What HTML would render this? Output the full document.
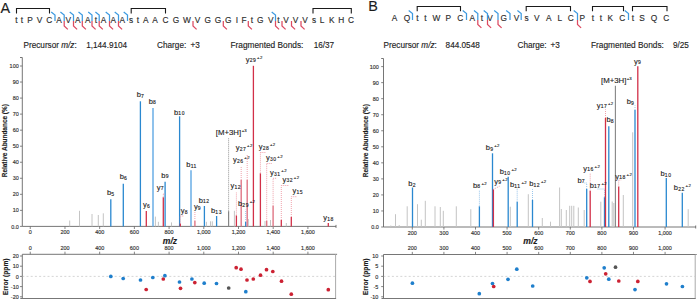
<!DOCTYPE html>
<html><head><meta charset="utf-8"><style>
html,body{margin:0;padding:0;background:#fff;}
svg{display:block;font-family:"Liberation Sans", sans-serif;}
text{stroke:#2a2a2a;stroke-width:0.14px;}
</style></head><body>
<svg width="697" height="300" viewBox="0 0 697 300">
<rect width="697" height="300" fill="#fff"/>
<text x="0.5" y="12.6" font-size="14.4" text-anchor="start" font-weight="normal" font-style="normal" fill="#1a1a1a" >A</text>
<text x="368.2" y="11.0" font-size="14.4" text-anchor="start" font-weight="normal" font-style="normal" fill="#1a1a1a" >B</text>
<text x="16.5" y="22.7" font-size="8.3" text-anchor="middle" font-weight="normal" font-style="normal" fill="#2b2b2b" >t</text>
<text x="22" y="22.7" font-size="8.3" text-anchor="middle" font-weight="normal" font-style="normal" fill="#2b2b2b" >t</text>
<text x="30" y="22.7" font-size="8.3" text-anchor="middle" font-weight="normal" font-style="normal" fill="#2b2b2b" >P</text>
<text x="39.6" y="22.7" font-size="8.3" text-anchor="middle" font-weight="normal" font-style="normal" fill="#2b2b2b" >V</text>
<text x="49.2" y="22.7" font-size="8.3" text-anchor="middle" font-weight="normal" font-style="normal" fill="#2b2b2b" >C</text>
<text x="59" y="22.7" font-size="8.3" text-anchor="middle" font-weight="normal" font-style="normal" fill="#2b2b2b" >A</text>
<text x="68.2" y="22.7" font-size="8.3" text-anchor="middle" font-weight="normal" font-style="normal" fill="#2b2b2b" >V</text>
<text x="77.7" y="22.7" font-size="8.3" text-anchor="middle" font-weight="normal" font-style="normal" fill="#2b2b2b" >A</text>
<text x="87.7" y="22.7" font-size="8.3" text-anchor="middle" font-weight="normal" font-style="normal" fill="#2b2b2b" >A</text>
<text x="96" y="22.7" font-size="8.3" text-anchor="middle" font-weight="normal" font-style="normal" fill="#2b2b2b" >t</text>
<text x="103.5" y="22.7" font-size="8.3" text-anchor="middle" font-weight="normal" font-style="normal" fill="#2b2b2b" >A</text>
<text x="113.2" y="22.7" font-size="8.3" text-anchor="middle" font-weight="normal" font-style="normal" fill="#2b2b2b" >A</text>
<text x="122.2" y="22.7" font-size="8.3" text-anchor="middle" font-weight="normal" font-style="normal" fill="#2b2b2b" >A</text>
<text x="131" y="22.7" font-size="8.3" text-anchor="middle" font-weight="normal" font-style="normal" fill="#2b2b2b" >s</text>
<text x="138" y="22.7" font-size="8.3" text-anchor="middle" font-weight="normal" font-style="normal" fill="#2b2b2b" >t</text>
<text x="145.7" y="22.7" font-size="8.3" text-anchor="middle" font-weight="normal" font-style="normal" fill="#2b2b2b" >A</text>
<text x="155" y="22.7" font-size="8.3" text-anchor="middle" font-weight="normal" font-style="normal" fill="#2b2b2b" >A</text>
<text x="165.5" y="22.7" font-size="8.3" text-anchor="middle" font-weight="normal" font-style="normal" fill="#2b2b2b" >C</text>
<text x="176" y="22.7" font-size="8.3" text-anchor="middle" font-weight="normal" font-style="normal" fill="#2b2b2b" >G</text>
<text x="187" y="22.7" font-size="8.3" text-anchor="middle" font-weight="normal" font-style="normal" fill="#2b2b2b" >W</text>
<text x="197.4" y="22.7" font-size="8.3" text-anchor="middle" font-weight="normal" font-style="normal" fill="#2b2b2b" >V</text>
<text x="207.8" y="22.7" font-size="8.3" text-anchor="middle" font-weight="normal" font-style="normal" fill="#2b2b2b" >G</text>
<text x="218" y="22.7" font-size="8.3" text-anchor="middle" font-weight="normal" font-style="normal" fill="#2b2b2b" >G</text>
<text x="228.2" y="22.7" font-size="8.3" text-anchor="middle" font-weight="normal" font-style="normal" fill="#2b2b2b" >G</text>
<text x="236.8" y="22.7" font-size="8.3" text-anchor="middle" font-weight="normal" font-style="normal" fill="#2b2b2b" >I</text>
<text x="244" y="22.7" font-size="8.3" text-anchor="middle" font-weight="normal" font-style="normal" fill="#2b2b2b" >F</text>
<text x="252" y="22.7" font-size="8.3" text-anchor="middle" font-weight="normal" font-style="normal" fill="#2b2b2b" >t</text>
<text x="260.2" y="22.7" font-size="8.3" text-anchor="middle" font-weight="normal" font-style="normal" fill="#2b2b2b" >G</text>
<text x="270.8" y="22.7" font-size="8.3" text-anchor="middle" font-weight="normal" font-style="normal" fill="#2b2b2b" >V</text>
<text x="278.5" y="22.7" font-size="8.3" text-anchor="middle" font-weight="normal" font-style="normal" fill="#2b2b2b" >t</text>
<text x="286" y="22.7" font-size="8.3" text-anchor="middle" font-weight="normal" font-style="normal" fill="#2b2b2b" >V</text>
<text x="295.5" y="22.7" font-size="8.3" text-anchor="middle" font-weight="normal" font-style="normal" fill="#2b2b2b" >V</text>
<text x="305" y="22.7" font-size="8.3" text-anchor="middle" font-weight="normal" font-style="normal" fill="#2b2b2b" >V</text>
<text x="314" y="22.7" font-size="8.3" text-anchor="middle" font-weight="normal" font-style="normal" fill="#2b2b2b" >s</text>
<text x="322" y="22.7" font-size="8.3" text-anchor="middle" font-weight="normal" font-style="normal" fill="#2b2b2b" >L</text>
<text x="331.7" y="22.7" font-size="8.3" text-anchor="middle" font-weight="normal" font-style="normal" fill="#2b2b2b" >K</text>
<text x="341.2" y="22.7" font-size="8.3" text-anchor="middle" font-weight="normal" font-style="normal" fill="#2b2b2b" >H</text>
<text x="351" y="22.7" font-size="8.3" text-anchor="middle" font-weight="normal" font-style="normal" fill="#2b2b2b" >C</text>
<text x="394.6" y="21.4" font-size="8.3" text-anchor="middle" font-weight="normal" font-style="normal" fill="#2b2b2b" >A</text>
<text x="407" y="21.4" font-size="8.3" text-anchor="middle" font-weight="normal" font-style="normal" fill="#2b2b2b" >Q</text>
<text x="417.3" y="21.4" font-size="8.3" text-anchor="middle" font-weight="normal" font-style="normal" fill="#2b2b2b" >t</text>
<text x="425.3" y="21.4" font-size="8.3" text-anchor="middle" font-weight="normal" font-style="normal" fill="#2b2b2b" >t</text>
<text x="436.3" y="21.4" font-size="8.3" text-anchor="middle" font-weight="normal" font-style="normal" fill="#2b2b2b" >W</text>
<text x="448.3" y="21.4" font-size="8.3" text-anchor="middle" font-weight="normal" font-style="normal" fill="#2b2b2b" >P</text>
<text x="460.2" y="21.4" font-size="8.3" text-anchor="middle" font-weight="normal" font-style="normal" fill="#2b2b2b" >C</text>
<text x="472.2" y="21.4" font-size="8.3" text-anchor="middle" font-weight="normal" font-style="normal" fill="#2b2b2b" >A</text>
<text x="482" y="21.4" font-size="8.3" text-anchor="middle" font-weight="normal" font-style="normal" fill="#2b2b2b" >t</text>
<text x="490" y="21.4" font-size="8.3" text-anchor="middle" font-weight="normal" font-style="normal" fill="#2b2b2b" >V</text>
<text x="503.7" y="21.4" font-size="8.3" text-anchor="middle" font-weight="normal" font-style="normal" fill="#2b2b2b" >G</text>
<text x="516.5" y="21.4" font-size="8.3" text-anchor="middle" font-weight="normal" font-style="normal" fill="#2b2b2b" >V</text>
<text x="526.5" y="21.4" font-size="8.3" text-anchor="middle" font-weight="normal" font-style="normal" fill="#2b2b2b" >s</text>
<text x="536.8" y="21.4" font-size="8.3" text-anchor="middle" font-weight="normal" font-style="normal" fill="#2b2b2b" >V</text>
<text x="548.8" y="21.4" font-size="8.3" text-anchor="middle" font-weight="normal" font-style="normal" fill="#2b2b2b" >A</text>
<text x="559.8" y="21.4" font-size="8.3" text-anchor="middle" font-weight="normal" font-style="normal" fill="#2b2b2b" >L</text>
<text x="570.8" y="21.4" font-size="8.3" text-anchor="middle" font-weight="normal" font-style="normal" fill="#2b2b2b" >C</text>
<text x="582.2" y="21.4" font-size="8.3" text-anchor="middle" font-weight="normal" font-style="normal" fill="#2b2b2b" >P</text>
<text x="593" y="21.4" font-size="8.3" text-anchor="middle" font-weight="normal" font-style="normal" fill="#2b2b2b" >t</text>
<text x="601" y="21.4" font-size="8.3" text-anchor="middle" font-weight="normal" font-style="normal" fill="#2b2b2b" >t</text>
<text x="610.2" y="21.4" font-size="8.3" text-anchor="middle" font-weight="normal" font-style="normal" fill="#2b2b2b" >K</text>
<text x="622.2" y="21.4" font-size="8.3" text-anchor="middle" font-weight="normal" font-style="normal" fill="#2b2b2b" >C</text>
<text x="633" y="21.4" font-size="8.3" text-anchor="middle" font-weight="normal" font-style="normal" fill="#2b2b2b" >t</text>
<text x="642" y="21.4" font-size="8.3" text-anchor="middle" font-weight="normal" font-style="normal" fill="#2b2b2b" >S</text>
<text x="654" y="21.4" font-size="8.3" text-anchor="middle" font-weight="normal" font-style="normal" fill="#2b2b2b" >Q</text>
<text x="666.2" y="21.4" font-size="8.3" text-anchor="middle" font-weight="normal" font-style="normal" fill="#2b2b2b" >C</text>
<path d="M16.5 13.6 V8.5 H49.5 V13.6" fill="none" stroke="#1a1a1a" stroke-width="1.1"/>
<path d="M131.2 13.6 V8.5 H165.5 V13.6" fill="none" stroke="#1a1a1a" stroke-width="1.1"/>
<path d="M313 13.6 V8.5 H351.3 V13.6" fill="none" stroke="#1a1a1a" stroke-width="1.1"/>
<path d="M417.2 11.2 V6.5 H460.5 V11.2" fill="none" stroke="#1a1a1a" stroke-width="1.1"/>
<path d="M526.2 11.2 V6.5 H570.5 V11.2" fill="none" stroke="#1a1a1a" stroke-width="1.1"/>
<path d="M592.5 11.2 V6.5 H623.5 V11.2" fill="none" stroke="#1a1a1a" stroke-width="1.1"/>
<path d="M632.5 11.2 V6.5 H667 V11.2" fill="none" stroke="#1a1a1a" stroke-width="1.1"/>
<path d="M51.2 12 L55 15 V21" fill="none" stroke="#3d9ae0" stroke-width="1.25"/>
<path d="M60.400000000000006 12 L64.2 15 V21" fill="none" stroke="#3d9ae0" stroke-width="1.25"/>
<path d="M64.2 21 V26 L67.8 29.4" fill="none" stroke="#dd4a62" stroke-width="1.25"/>
<path d="M69.7 12 L73.5 15 V21" fill="none" stroke="#3d9ae0" stroke-width="1.25"/>
<path d="M73.5 21 V26 L77.1 29.4" fill="none" stroke="#dd4a62" stroke-width="1.25"/>
<path d="M78.5 12 L82.3 15 V21" fill="none" stroke="#3d9ae0" stroke-width="1.25"/>
<path d="M82.3 21 V26 L85.89999999999999 29.4" fill="none" stroke="#dd4a62" stroke-width="1.25"/>
<path d="M88.2 12 L92 15 V21" fill="none" stroke="#3d9ae0" stroke-width="1.25"/>
<path d="M92 21 V26 L95.6 29.4" fill="none" stroke="#dd4a62" stroke-width="1.25"/>
<path d="M95.4 12 L99.2 15 V21" fill="none" stroke="#3d9ae0" stroke-width="1.25"/>
<path d="M99.2 21 V26 L102.8 29.4" fill="none" stroke="#dd4a62" stroke-width="1.25"/>
<path d="M105.7 12 L109.5 15 V21" fill="none" stroke="#3d9ae0" stroke-width="1.25"/>
<path d="M109.5 21 V26 L113.1 29.4" fill="none" stroke="#dd4a62" stroke-width="1.25"/>
<path d="M114.7 12 L118.5 15 V21" fill="none" stroke="#3d9ae0" stroke-width="1.25"/>
<path d="M118.5 21 V26 L122.1 29.4" fill="none" stroke="#dd4a62" stroke-width="1.25"/>
<path d="M123.7 12 L127.5 15 V21" fill="none" stroke="#3d9ae0" stroke-width="1.25"/>
<path d="M193 21 V26 L196.6 29.4" fill="none" stroke="#dd4a62" stroke-width="1.25"/>
<path d="M223.3 21 V26 L226.9 29.4" fill="none" stroke="#dd4a62" stroke-width="1.25"/>
<path d="M248.3 21 V26 L251.9 29.4" fill="none" stroke="#dd4a62" stroke-width="1.25"/>
<path d="M271.7 12 L275.5 15 V21" fill="none" stroke="#3d9ae0" stroke-width="1.25"/>
<path d="M275.5 21 V26 L279.1 29.4" fill="none" stroke="#dd4a62" stroke-width="1.25"/>
<path d="M282 21 V26 L285.6 29.4" fill="none" stroke="#dd4a62" stroke-width="1.25"/>
<path d="M291.5 21 V26 L295.1 29.4" fill="none" stroke="#dd4a62" stroke-width="1.25"/>
<path d="M301 21 V26 L304.6 29.4" fill="none" stroke="#dd4a62" stroke-width="1.25"/>
<path d="M408.7 10.5 L412.5 13.5 V20" fill="none" stroke="#3d9ae0" stroke-width="1.25"/>
<path d="M462.7 10.5 L466.5 13.5 V20" fill="none" stroke="#3d9ae0" stroke-width="1.25"/>
<path d="M474.0 10.5 L477.8 13.5 V20" fill="none" stroke="#3d9ae0" stroke-width="1.25"/>
<path d="M477.8 20 V24.5 L481.40000000000003 27.9" fill="none" stroke="#dd4a62" stroke-width="1.25"/>
<path d="M483.7 10.5 L487.5 13.5 V20" fill="none" stroke="#3d9ae0" stroke-width="1.25"/>
<path d="M487.5 20 V24.5 L491.1 27.9" fill="none" stroke="#dd4a62" stroke-width="1.25"/>
<path d="M494.2 10.5 L498 13.5 V20" fill="none" stroke="#3d9ae0" stroke-width="1.25"/>
<path d="M498 20 V24.5 L501.6 27.9" fill="none" stroke="#dd4a62" stroke-width="1.25"/>
<path d="M506.2 10.5 L510 13.5 V20" fill="none" stroke="#3d9ae0" stroke-width="1.25"/>
<path d="M517.4000000000001 10.5 L521.2 13.5 V20" fill="none" stroke="#3d9ae0" stroke-width="1.25"/>
<path d="M573.7 10.5 L577.5 13.5 V20" fill="none" stroke="#3d9ae0" stroke-width="1.25"/>
<path d="M577.5 20 V24.5 L581.1 27.9" fill="none" stroke="#dd4a62" stroke-width="1.25"/>
<path d="M624.7 10.5 L628.5 13.5 V20" fill="none" stroke="#3d9ae0" stroke-width="1.25"/>
<text x="23.5" y="48.4" font-size="8.2" fill="#1a1a1a">Precursor <tspan font-style="italic">m/z</tspan>:</text>
<text x="86.2" y="48.4" font-size="8.2" text-anchor="start" font-weight="normal" font-style="normal" fill="#1a1a1a" >1,144.9104</text>
<text x="157.1" y="48.4" font-size="8.2" text-anchor="start" font-weight="normal" font-style="normal" fill="#1a1a1a" >Charge:</text>
<text x="199.9" y="48.4" font-size="8.2" text-anchor="end" font-weight="normal" font-style="normal" fill="#1a1a1a" >+3</text>
<text x="230.5" y="48.4" font-size="8.3" text-anchor="start" font-weight="normal" font-style="normal" fill="#1a1a1a" >Fragmented Bonds:</text>
<text x="313.7" y="48.4" font-size="8.2" text-anchor="start" font-weight="normal" font-style="normal" fill="#1a1a1a" >16/37</text>
<text x="383.6" y="48.4" font-size="8.2" fill="#1a1a1a">Precursor <tspan font-style="italic">m/z</tspan>:</text>
<text x="445.6" y="48.4" font-size="8.2" text-anchor="start" font-weight="normal" font-style="normal" fill="#1a1a1a" >844.0548</text>
<text x="517.5" y="48.4" font-size="8.2" text-anchor="start" font-weight="normal" font-style="normal" fill="#1a1a1a" >Charge:</text>
<text x="559.9" y="48.4" font-size="8.2" text-anchor="end" font-weight="normal" font-style="normal" fill="#1a1a1a" >+3</text>
<text x="591" y="48.4" font-size="8.3" text-anchor="start" font-weight="normal" font-style="normal" fill="#1a1a1a" >Fragmented Bonds:</text>
<text x="672.9" y="48.4" font-size="8.2" text-anchor="start" font-weight="normal" font-style="normal" fill="#1a1a1a" >9/25</text>
<path d="M22.3 57.5 H20.0 M22.3 57.5 V226.4 H336 M336 224.9 V227.9" fill="none" stroke="#666" stroke-width="0.9"/>
<path d="M20.0 226.40 H22.3" stroke="#666" stroke-width="0.8"/>
<text transform="translate(18.7 228.5) scale(1 1.1)" font-size="5.45" text-anchor="end" fill="#333">0.0</text>
<path d="M20.0 210.36 H22.3" stroke="#666" stroke-width="0.8"/>
<text transform="translate(18.7 212.46) scale(1 1.1)" font-size="5.45" text-anchor="end" fill="#333">10</text>
<path d="M20.0 194.32 H22.3" stroke="#666" stroke-width="0.8"/>
<text transform="translate(18.7 196.42) scale(1 1.1)" font-size="5.45" text-anchor="end" fill="#333">20</text>
<path d="M20.0 178.28 H22.3" stroke="#666" stroke-width="0.8"/>
<text transform="translate(18.7 180.38) scale(1 1.1)" font-size="5.45" text-anchor="end" fill="#333">30</text>
<path d="M20.0 162.24 H22.3" stroke="#666" stroke-width="0.8"/>
<text transform="translate(18.7 164.34) scale(1 1.1)" font-size="5.45" text-anchor="end" fill="#333">40</text>
<path d="M20.0 146.20 H22.3" stroke="#666" stroke-width="0.8"/>
<text transform="translate(18.7 148.3) scale(1 1.1)" font-size="5.45" text-anchor="end" fill="#333">50</text>
<path d="M20.0 130.16 H22.3" stroke="#666" stroke-width="0.8"/>
<text transform="translate(18.7 132.26) scale(1 1.1)" font-size="5.45" text-anchor="end" fill="#333">60</text>
<path d="M20.0 114.12 H22.3" stroke="#666" stroke-width="0.8"/>
<text transform="translate(18.7 116.22) scale(1 1.1)" font-size="5.45" text-anchor="end" fill="#333">70</text>
<path d="M20.0 98.08 H22.3" stroke="#666" stroke-width="0.8"/>
<text transform="translate(18.7 100.18) scale(1 1.1)" font-size="5.45" text-anchor="end" fill="#333">80</text>
<path d="M20.0 82.04 H22.3" stroke="#666" stroke-width="0.8"/>
<text transform="translate(18.7 84.14) scale(1 1.1)" font-size="5.45" text-anchor="end" fill="#333">90</text>
<path d="M20.0 66.00 H22.3" stroke="#666" stroke-width="0.8"/>
<text transform="translate(18.7 68.1) scale(1 1.1)" font-size="5.45" text-anchor="end" fill="#333">100</text>
<path d="M30.26 226.4 V229.0" stroke="#666" stroke-width="0.8"/>
<text transform="translate(30.26 233.9) scale(1 1.1)" font-size="5.45" text-anchor="middle" fill="#333">0</text>
<path d="M64.97 226.4 V229.0" stroke="#666" stroke-width="0.8"/>
<text transform="translate(64.97 233.9) scale(1 1.1)" font-size="5.45" text-anchor="middle" fill="#333">200</text>
<path d="M99.67 226.4 V229.0" stroke="#666" stroke-width="0.8"/>
<text transform="translate(99.67 233.9) scale(1 1.1)" font-size="5.45" text-anchor="middle" fill="#333">400</text>
<path d="M134.38 226.4 V229.0" stroke="#666" stroke-width="0.8"/>
<text transform="translate(134.38 233.9) scale(1 1.1)" font-size="5.45" text-anchor="middle" fill="#333">600</text>
<path d="M169.08 226.4 V229.0" stroke="#666" stroke-width="0.8"/>
<text transform="translate(169.08 233.9) scale(1 1.1)" font-size="5.45" text-anchor="middle" fill="#333">800</text>
<path d="M203.79 226.4 V229.0" stroke="#666" stroke-width="0.8"/>
<text transform="translate(203.79 233.9) scale(1 1.1)" font-size="5.45" text-anchor="middle" fill="#333">1,000</text>
<path d="M238.50 226.4 V229.0" stroke="#666" stroke-width="0.8"/>
<text transform="translate(238.5 233.9) scale(1 1.1)" font-size="5.45" text-anchor="middle" fill="#333">1,200</text>
<path d="M273.20 226.4 V229.0" stroke="#666" stroke-width="0.8"/>
<text transform="translate(273.2 233.9) scale(1 1.1)" font-size="5.45" text-anchor="middle" fill="#333">1,400</text>
<path d="M307.91 226.4 V229.0" stroke="#666" stroke-width="0.8"/>
<text transform="translate(307.91 233.9) scale(1 1.1)" font-size="5.45" text-anchor="middle" fill="#333">1,600</text>
<text transform="translate(4.7 140.7) rotate(-90)" x="0" y="0" font-size="6.45" font-weight="bold" text-anchor="middle" fill="#1a1a1a" dominant-baseline="central">Relative Abundance (%)</text>
<path d="M383.5 58.5 H381.2 M383.5 58.5 V227 H695.7 M695.7 225.5 V228.5" fill="none" stroke="#666" stroke-width="0.9"/>
<path d="M381.2 227.00 H383.5" stroke="#666" stroke-width="0.8"/>
<text transform="translate(378.9 229.1) scale(1 1.1)" font-size="5.45" text-anchor="end" fill="#333">0.0</text>
<path d="M381.2 210.96 H383.5" stroke="#666" stroke-width="0.8"/>
<text transform="translate(378.9 213.06) scale(1 1.1)" font-size="5.45" text-anchor="end" fill="#333">10</text>
<path d="M381.2 194.92 H383.5" stroke="#666" stroke-width="0.8"/>
<text transform="translate(378.9 197.02) scale(1 1.1)" font-size="5.45" text-anchor="end" fill="#333">20</text>
<path d="M381.2 178.88 H383.5" stroke="#666" stroke-width="0.8"/>
<text transform="translate(378.9 180.98) scale(1 1.1)" font-size="5.45" text-anchor="end" fill="#333">30</text>
<path d="M381.2 162.84 H383.5" stroke="#666" stroke-width="0.8"/>
<text transform="translate(378.9 164.94) scale(1 1.1)" font-size="5.45" text-anchor="end" fill="#333">40</text>
<path d="M381.2 146.80 H383.5" stroke="#666" stroke-width="0.8"/>
<text transform="translate(378.9 148.9) scale(1 1.1)" font-size="5.45" text-anchor="end" fill="#333">50</text>
<path d="M381.2 130.76 H383.5" stroke="#666" stroke-width="0.8"/>
<text transform="translate(378.9 132.86) scale(1 1.1)" font-size="5.45" text-anchor="end" fill="#333">60</text>
<path d="M381.2 114.72 H383.5" stroke="#666" stroke-width="0.8"/>
<text transform="translate(378.9 116.82) scale(1 1.1)" font-size="5.45" text-anchor="end" fill="#333">70</text>
<path d="M381.2 98.68 H383.5" stroke="#666" stroke-width="0.8"/>
<text transform="translate(378.9 100.78) scale(1 1.1)" font-size="5.45" text-anchor="end" fill="#333">80</text>
<path d="M381.2 82.64 H383.5" stroke="#666" stroke-width="0.8"/>
<text transform="translate(378.9 84.74) scale(1 1.1)" font-size="5.45" text-anchor="end" fill="#333">90</text>
<path d="M381.2 66.60 H383.5" stroke="#666" stroke-width="0.8"/>
<text transform="translate(378.9 68.7) scale(1 1.1)" font-size="5.45" text-anchor="end" fill="#333">100</text>
<path d="M412.30 227 V229.6" stroke="#666" stroke-width="0.8"/>
<text transform="translate(412.3 234.5) scale(1 1.1)" font-size="5.45" text-anchor="middle" fill="#333">200</text>
<path d="M443.90 227 V229.6" stroke="#666" stroke-width="0.8"/>
<text transform="translate(443.9 234.5) scale(1 1.1)" font-size="5.45" text-anchor="middle" fill="#333">300</text>
<path d="M475.50 227 V229.6" stroke="#666" stroke-width="0.8"/>
<text transform="translate(475.5 234.5) scale(1 1.1)" font-size="5.45" text-anchor="middle" fill="#333">400</text>
<path d="M507.09 227 V229.6" stroke="#666" stroke-width="0.8"/>
<text transform="translate(507.09 234.5) scale(1 1.1)" font-size="5.45" text-anchor="middle" fill="#333">500</text>
<path d="M538.69 227 V229.6" stroke="#666" stroke-width="0.8"/>
<text transform="translate(538.69 234.5) scale(1 1.1)" font-size="5.45" text-anchor="middle" fill="#333">600</text>
<path d="M570.29 227 V229.6" stroke="#666" stroke-width="0.8"/>
<text transform="translate(570.29 234.5) scale(1 1.1)" font-size="5.45" text-anchor="middle" fill="#333">700</text>
<path d="M601.88 227 V229.6" stroke="#666" stroke-width="0.8"/>
<text transform="translate(601.88 234.5) scale(1 1.1)" font-size="5.45" text-anchor="middle" fill="#333">800</text>
<path d="M633.48 227 V229.6" stroke="#666" stroke-width="0.8"/>
<text transform="translate(633.48 234.5) scale(1 1.1)" font-size="5.45" text-anchor="middle" fill="#333">900</text>
<path d="M665.08 227 V229.6" stroke="#666" stroke-width="0.8"/>
<text transform="translate(665.08 234.5) scale(1 1.1)" font-size="5.45" text-anchor="middle" fill="#333">1,000</text>
<text transform="translate(365.2 140.7) rotate(-90)" x="0" y="0" font-size="6.45" font-weight="bold" text-anchor="middle" fill="#1a1a1a" dominant-baseline="central">Relative Abundance (%)</text>
<text x="170" y="244" font-size="8.6" font-weight="bold" font-style="italic" text-anchor="middle" fill="#1a1a1a">m/z</text>
<text x="530.4" y="244" font-size="8.6" font-weight="bold" font-style="italic" text-anchor="middle" fill="#1a1a1a">m/z</text>
<path d="M22.3 298.6 V254.3 H335.6" fill="none" stroke="#666" stroke-width="0.9"/>
<path d="M335.6 254.3 H337.1" fill="none" stroke="#666" stroke-width="0.9"/>
<path d="M335.6 254.3 V298.6" fill="none" stroke="#a0a0a0" stroke-width="0.9"/>
<path d="M20.3 298.5 H336.1" fill="none" stroke="#777" stroke-width="1"/>
<path d="M22.3 276.4 H335.6" stroke="#c4c4c4" stroke-width="0.7" stroke-dasharray="2 2.2"/>
<path d="M20.0 256.00 H22.3" stroke="#666" stroke-width="0.8"/>
<text transform="translate(18.7 258.1) scale(1 1.1)" font-size="5.45" text-anchor="end" fill="#333">20</text>
<path d="M20.0 266.20 H22.3" stroke="#666" stroke-width="0.8"/>
<text transform="translate(18.7 268.3) scale(1 1.1)" font-size="5.45" text-anchor="end" fill="#333">10</text>
<path d="M20.0 276.40 H22.3" stroke="#666" stroke-width="0.8"/>
<text transform="translate(18.7 278.5) scale(1 1.1)" font-size="5.45" text-anchor="end" fill="#333">0</text>
<path d="M20.0 286.60 H22.3" stroke="#666" stroke-width="0.8"/>
<text transform="translate(18.7 288.7) scale(1 1.1)" font-size="5.45" text-anchor="end" fill="#333">-10</text>
<path d="M20.0 296.80 H22.3" stroke="#666" stroke-width="0.8"/>
<text transform="translate(18.7 298.9) scale(1 1.1)" font-size="5.45" text-anchor="end" fill="#333">-20</text>
<path d="M30.26 254.3 V251.70000000000002" stroke="#666" stroke-width="0.8"/>
<text transform="translate(30.26 250.0) scale(1 1.1)" font-size="5.45" text-anchor="middle" fill="#333">0</text>
<path d="M64.97 254.3 V251.70000000000002" stroke="#666" stroke-width="0.8"/>
<text transform="translate(64.97 250.0) scale(1 1.1)" font-size="5.45" text-anchor="middle" fill="#333">200</text>
<path d="M99.67 254.3 V251.70000000000002" stroke="#666" stroke-width="0.8"/>
<text transform="translate(99.67 250.0) scale(1 1.1)" font-size="5.45" text-anchor="middle" fill="#333">400</text>
<path d="M134.38 254.3 V251.70000000000002" stroke="#666" stroke-width="0.8"/>
<text transform="translate(134.38 250.0) scale(1 1.1)" font-size="5.45" text-anchor="middle" fill="#333">600</text>
<path d="M169.08 254.3 V251.70000000000002" stroke="#666" stroke-width="0.8"/>
<text transform="translate(169.08 250.0) scale(1 1.1)" font-size="5.45" text-anchor="middle" fill="#333">800</text>
<path d="M203.79 254.3 V251.70000000000002" stroke="#666" stroke-width="0.8"/>
<text transform="translate(203.79 250.0) scale(1 1.1)" font-size="5.45" text-anchor="middle" fill="#333">1,000</text>
<path d="M238.50 254.3 V251.70000000000002" stroke="#666" stroke-width="0.8"/>
<text transform="translate(238.5 250.0) scale(1 1.1)" font-size="5.45" text-anchor="middle" fill="#333">1,200</text>
<path d="M273.20 254.3 V251.70000000000002" stroke="#666" stroke-width="0.8"/>
<text transform="translate(273.2 250.0) scale(1 1.1)" font-size="5.45" text-anchor="middle" fill="#333">1,400</text>
<path d="M307.91 254.3 V251.70000000000002" stroke="#666" stroke-width="0.8"/>
<text transform="translate(307.91 250.0) scale(1 1.1)" font-size="5.45" text-anchor="middle" fill="#333">1,600</text>
<text transform="translate(5.2 276.8) rotate(-90)" x="0" y="0" font-size="6.7" font-weight="bold" text-anchor="middle" fill="#1a1a1a" dominant-baseline="central">Error (ppm)</text>
<path d="M383.5 298.6 V254.5 H695.2" fill="none" stroke="#666" stroke-width="0.9"/>
<path d="M695.2 254.5 H696.7" fill="none" stroke="#666" stroke-width="0.9"/>
<path d="M695.2 254.5 V298.6" fill="none" stroke="#a0a0a0" stroke-width="0.9"/>
<path d="M381.5 298.5 H695.7" fill="none" stroke="#777" stroke-width="1"/>
<path d="M383.5 276.4 H695.2" stroke="#c4c4c4" stroke-width="0.7" stroke-dasharray="2 2.2"/>
<path d="M381.2 256.00 H383.5" stroke="#666" stroke-width="0.8"/>
<text transform="translate(378.3 258.1) scale(1 1.1)" font-size="5.45" text-anchor="end" fill="#333">10</text>
<path d="M381.2 266.20 H383.5" stroke="#666" stroke-width="0.8"/>
<text transform="translate(378.3 268.3) scale(1 1.1)" font-size="5.45" text-anchor="end" fill="#333">5</text>
<path d="M381.2 276.40 H383.5" stroke="#666" stroke-width="0.8"/>
<text transform="translate(378.3 278.5) scale(1 1.1)" font-size="5.45" text-anchor="end" fill="#333">0</text>
<path d="M381.2 286.60 H383.5" stroke="#666" stroke-width="0.8"/>
<text transform="translate(378.3 288.7) scale(1 1.1)" font-size="5.45" text-anchor="end" fill="#333">-5</text>
<path d="M381.2 296.80 H383.5" stroke="#666" stroke-width="0.8"/>
<text transform="translate(378.3 298.9) scale(1 1.1)" font-size="5.45" text-anchor="end" fill="#333">-10</text>
<path d="M412.30 254.5 V251.9" stroke="#666" stroke-width="0.8"/>
<text transform="translate(412.3 250.2) scale(1 1.1)" font-size="5.45" text-anchor="middle" fill="#333">200</text>
<path d="M443.90 254.5 V251.9" stroke="#666" stroke-width="0.8"/>
<text transform="translate(443.9 250.2) scale(1 1.1)" font-size="5.45" text-anchor="middle" fill="#333">300</text>
<path d="M475.50 254.5 V251.9" stroke="#666" stroke-width="0.8"/>
<text transform="translate(475.5 250.2) scale(1 1.1)" font-size="5.45" text-anchor="middle" fill="#333">400</text>
<path d="M507.09 254.5 V251.9" stroke="#666" stroke-width="0.8"/>
<text transform="translate(507.09 250.2) scale(1 1.1)" font-size="5.45" text-anchor="middle" fill="#333">500</text>
<path d="M538.69 254.5 V251.9" stroke="#666" stroke-width="0.8"/>
<text transform="translate(538.69 250.2) scale(1 1.1)" font-size="5.45" text-anchor="middle" fill="#333">600</text>
<path d="M570.29 254.5 V251.9" stroke="#666" stroke-width="0.8"/>
<text transform="translate(570.29 250.2) scale(1 1.1)" font-size="5.45" text-anchor="middle" fill="#333">700</text>
<path d="M601.88 254.5 V251.9" stroke="#666" stroke-width="0.8"/>
<text transform="translate(601.88 250.2) scale(1 1.1)" font-size="5.45" text-anchor="middle" fill="#333">800</text>
<path d="M633.48 254.5 V251.9" stroke="#666" stroke-width="0.8"/>
<text transform="translate(633.48 250.2) scale(1 1.1)" font-size="5.45" text-anchor="middle" fill="#333">900</text>
<path d="M665.08 254.5 V251.9" stroke="#666" stroke-width="0.8"/>
<text transform="translate(665.08 250.2) scale(1 1.1)" font-size="5.45" text-anchor="middle" fill="#333">1,000</text>
<text transform="translate(365.2 276.8) rotate(-90)" x="0" y="0" font-size="6.7" font-weight="bold" text-anchor="middle" fill="#1a1a1a" dominant-baseline="central">Error (ppm)</text>
<path d="M69.7 226.4 V220.5" stroke="#c4c4c4" stroke-width="1.0"/>
<path d="M79.5 226.4 V210.8" stroke="#c4c4c4" stroke-width="1.0"/>
<path d="M92 226.4 V214" stroke="#c4c4c4" stroke-width="1.0"/>
<path d="M98.3 226.4 V215" stroke="#c4c4c4" stroke-width="1.0"/>
<path d="M103.3 226.4 V213.3" stroke="#c4c4c4" stroke-width="1.0"/>
<path d="M155.4 226.4 V216.6" stroke="#c4c4c4" stroke-width="1.0"/>
<path d="M158.4 226.4 V221.8" stroke="#c4c4c4" stroke-width="1.0"/>
<path d="M171.5 226.4 V222.4" stroke="#c4c4c4" stroke-width="1.0"/>
<path d="M206.4 226.4 V221.8" stroke="#c4c4c4" stroke-width="1.0"/>
<path d="M210.5 226.4 V221.3" stroke="#c4c4c4" stroke-width="1.0"/>
<path d="M212.3 226.4 V221.3" stroke="#c4c4c4" stroke-width="1.0"/>
<path d="M234.4 226.4 V210.8" stroke="#c4c4c4" stroke-width="1.0"/>
<path d="M248.3 226.4 V219" stroke="#c4c4c4" stroke-width="1.0"/>
<path d="M265 226.4 V221" stroke="#c4c4c4" stroke-width="1.0"/>
<path d="M270.5 226.4 V220" stroke="#c4c4c4" stroke-width="1.0"/>
<path d="M286.3 226.4 V223" stroke="#c4c4c4" stroke-width="1.0"/>
<path d="M228.6 226.4 V211.3" stroke="#858585" stroke-width="1.2"/>
<path d="M228.6 211.3 V138.3" stroke="#888" stroke-width="0.9" stroke-dasharray="1 1"/>
<path d="M110.8 226.4 V199.2" stroke="#2a88d0" stroke-width="1.3"/>
<path d="M123.3 226.4 V183.7" stroke="#2a88d0" stroke-width="1.3"/>
<path d="M140.4 226.4 V101.3" stroke="#2a88d0" stroke-width="1.3"/>
<path d="M153.0 226.4 V108" stroke="#6aaee6" stroke-width="1.5"/>
<path d="M165.1 226.4 V181.7" stroke="#2a88d0" stroke-width="1.3"/>
<path d="M179.6 226.4 V116.3" stroke="#2a88d0" stroke-width="1.3"/>
<path d="M191.0 226.4 V170.3" stroke="#6aaee6" stroke-width="1.5"/>
<path d="M204.4 226.4 V206" stroke="#2a88d0" stroke-width="1.3"/>
<path d="M216.6 226.4 V216" stroke="#2a88d0" stroke-width="1.3"/>
<path d="M245.7 226.4 V222" stroke="#2a88d0" stroke-width="1.3"/>
<path d="M245.7 222 V209.7" stroke="#8cc0ea" stroke-width="0.9" stroke-dasharray="1 1"/>
<path d="M146.3 226.4 V211" stroke="#d23048" stroke-width="1.3"/>
<path d="M163.3 226.4 V197.3" stroke="#d23048" stroke-width="1.3"/>
<path d="M163.3 197.3 V194" stroke="#ee97a3" stroke-width="0.9" stroke-dasharray="1 1"/>
<path d="M163.3 194 H165.3" stroke="#ee97a3" stroke-width="0.9" stroke-dasharray="1 1"/>
<path d="M180.3 226.4 V223.6" stroke="#d23048" stroke-width="1.3"/>
<path d="M180.3 223.6 V216" stroke="#ee97a3" stroke-width="0.9" stroke-dasharray="1 1"/>
<path d="M180.3 216 H183.3" stroke="#ee97a3" stroke-width="0.9" stroke-dasharray="1 1"/>
<path d="M194.9 226.4 V221" stroke="#e07585" stroke-width="1.4"/>
<path d="M194.9 221 V211.3" stroke="#ee97a3" stroke-width="0.9" stroke-dasharray="1 1"/>
<path d="M236.4 226.4 V215.4" stroke="#d23048" stroke-width="1.3"/>
<path d="M236.4 215.4 V192.5" stroke="#ee97a3" stroke-width="0.9" stroke-dasharray="1 1"/>
<path d="M241.2 226.4 V180" stroke="#e07585" stroke-width="1.4"/>
<path d="M241.2 180 V166" stroke="#ee97a3" stroke-width="0.9" stroke-dasharray="1 1"/>
<path d="M247.2 226.4 V180" stroke="#e07585" stroke-width="1.4"/>
<path d="M247.2 180 V155" stroke="#ee97a3" stroke-width="0.9" stroke-dasharray="1 1"/>
<path d="M253.4 226.4 V65.8" stroke="#d23048" stroke-width="1.3"/>
<path d="M260.4 226.4 V173.3" stroke="#d23048" stroke-width="1.3"/>
<path d="M260.4 173.3 V152.5" stroke="#ee97a3" stroke-width="0.9" stroke-dasharray="1 1"/>
<path d="M260.4 152.5 H265.9" stroke="#ee97a3" stroke-width="0.9" stroke-dasharray="1 1"/>
<path d="M266.7 226.4 V220.8" stroke="#e07585" stroke-width="1.4"/>
<path d="M266.7 220.8 V163.5" stroke="#ee97a3" stroke-width="0.9" stroke-dasharray="1 1"/>
<path d="M266.7 163.5 H272.2" stroke="#ee97a3" stroke-width="0.9" stroke-dasharray="1 1"/>
<path d="M273.1 226.4 V205.8" stroke="#e07585" stroke-width="1.4"/>
<path d="M273.1 205.8 V178.3" stroke="#ee97a3" stroke-width="0.9" stroke-dasharray="1 1"/>
<path d="M273.1 178.3 H276.1" stroke="#ee97a3" stroke-width="0.9" stroke-dasharray="1 1"/>
<path d="M281.3 226.4 V220" stroke="#d23048" stroke-width="1.3"/>
<path d="M281.3 220 V185.5" stroke="#ee97a3" stroke-width="0.9" stroke-dasharray="1 1"/>
<path d="M281.3 185.5 H288.8" stroke="#ee97a3" stroke-width="0.9" stroke-dasharray="1 1"/>
<path d="M291.3 226.4 V217" stroke="#d23048" stroke-width="1.3"/>
<path d="M291.3 217 V196.7" stroke="#ee97a3" stroke-width="0.9" stroke-dasharray="1 1"/>
<path d="M291.3 196.7 H296.8" stroke="#ee97a3" stroke-width="0.9" stroke-dasharray="1 1"/>
<path d="M328.3 226.4 V223" stroke="#d23048" stroke-width="1.3"/>
<path d="M390.8 227 V225.5" stroke="#c4c4c4" stroke-width="1.0"/>
<path d="M395.5 227 V214.2" stroke="#c4c4c4" stroke-width="1.0"/>
<path d="M399.2 227 V225" stroke="#c4c4c4" stroke-width="1.0"/>
<path d="M407.2 227 V206.3" stroke="#c4c4c4" stroke-width="1.0"/>
<path d="M417.5 227 V204.2" stroke="#c4c4c4" stroke-width="1.0"/>
<path d="M421.3 227 V219.7" stroke="#c4c4c4" stroke-width="1.0"/>
<path d="M425.3 227 V200.8" stroke="#c4c4c4" stroke-width="1.0"/>
<path d="M435 227 V206.3" stroke="#c4c4c4" stroke-width="1.0"/>
<path d="M440.3 227 V207" stroke="#c4c4c4" stroke-width="1.0"/>
<path d="M443.3 227 V210.8" stroke="#c4c4c4" stroke-width="1.0"/>
<path d="M456.3 227 V206.3" stroke="#c4c4c4" stroke-width="1.0"/>
<path d="M470.8 227 V209.2" stroke="#c4c4c4" stroke-width="1.0"/>
<path d="M510.3 227 V206.7" stroke="#c4c4c4" stroke-width="1.0"/>
<path d="M528.3 227 V194.2" stroke="#c4c4c4" stroke-width="1.0"/>
<path d="M542.3 227 V218" stroke="#c4c4c4" stroke-width="1.0"/>
<path d="M550.5 227 V221.7" stroke="#c4c4c4" stroke-width="1.0"/>
<path d="M559.6 227 V187.5" stroke="#c4c4c4" stroke-width="1.0"/>
<path d="M561.3 227 V209" stroke="#c4c4c4" stroke-width="1.0"/>
<path d="M566.3 227 V210" stroke="#c4c4c4" stroke-width="1.0"/>
<path d="M569.7 227 V205.8" stroke="#c4c4c4" stroke-width="1.0"/>
<path d="M571.7 227 V205.8" stroke="#c4c4c4" stroke-width="1.0"/>
<path d="M573.8 227 V205.8" stroke="#c4c4c4" stroke-width="1.0"/>
<path d="M578.3 227 V207.5" stroke="#c4c4c4" stroke-width="1.0"/>
<path d="M584.2 227 V210" stroke="#c4c4c4" stroke-width="1.0"/>
<path d="M600.8 227 V201.7" stroke="#c4c4c4" stroke-width="1.0"/>
<path d="M612.2 227 V201.5" stroke="#c4c4c4" stroke-width="1.0"/>
<path d="M613.8 227 V203" stroke="#c4c4c4" stroke-width="1.0"/>
<path d="M623.3 227 V195" stroke="#c4c4c4" stroke-width="1.0"/>
<path d="M632.7 227 V132.3" stroke="#c4c4c4" stroke-width="1.0"/>
<path d="M688.2 227 V209.2" stroke="#c4c4c4" stroke-width="1.0"/>
<path d="M615.4 227 V85.7" stroke="#858585" stroke-width="1.1"/>
<path d="M412.5 227 V187.5" stroke="#2a88d0" stroke-width="1.3"/>
<path d="M479.4 227 V206.3" stroke="#2a88d0" stroke-width="1.3"/>
<path d="M479.4 206.3 V190" stroke="#8cc0ea" stroke-width="0.9" stroke-dasharray="1 1"/>
<path d="M492.5 227 V153.3" stroke="#2a88d0" stroke-width="1.3"/>
<path d="M508.2 227 V176.7" stroke="#2a88d0" stroke-width="1.3"/>
<path d="M517.2 227 V201.7" stroke="#2a88d0" stroke-width="1.3"/>
<path d="M517.2 201.7 V188.3" stroke="#8cc0ea" stroke-width="0.9" stroke-dasharray="1 1"/>
<path d="M532.5 227 V200" stroke="#2a88d0" stroke-width="1.3"/>
<path d="M532.5 200 V189.2" stroke="#8cc0ea" stroke-width="0.9" stroke-dasharray="1 1"/>
<path d="M586.7 227 V189" stroke="#2a88d0" stroke-width="1.3"/>
<path d="M586.7 189 V183" stroke="#8cc0ea" stroke-width="0.9" stroke-dasharray="1 1"/>
<path d="M586.7 183 H584.2" stroke="#8cc0ea" stroke-width="0.9" stroke-dasharray="1 1"/>
<path d="M604.5 227 V197.2" stroke="#2a88d0" stroke-width="1.3"/>
<path d="M604.5 197.2 V189" stroke="#8cc0ea" stroke-width="0.9" stroke-dasharray="1 1"/>
<path d="M604.5 189 H597.5" stroke="#8cc0ea" stroke-width="0.9" stroke-dasharray="1 1"/>
<path d="M608.8 227 V126.2" stroke="#2a88d0" stroke-width="1.3"/>
<path d="M635 227 V110" stroke="#2a88d0" stroke-width="1.3"/>
<path d="M635 110 V105.3" stroke="#8cc0ea" stroke-width="0.9" stroke-dasharray="1 1"/>
<path d="M666.3 227 V178" stroke="#2a88d0" stroke-width="1.3"/>
<path d="M682.3 227 V192.7" stroke="#2a88d0" stroke-width="1.3"/>
<path d="M493.4 227 V189.3" stroke="#d23048" stroke-width="1.3"/>
<path d="M590.2 227 V190.7" stroke="#d23048" stroke-width="1.3"/>
<path d="M590.2 190.7 V173" stroke="#ee97a3" stroke-width="0.9" stroke-dasharray="1 1"/>
<path d="M605.5 227 V118" stroke="#d23048" stroke-width="1.3"/>
<path d="M605.5 118 V109.3" stroke="#ee97a3" stroke-width="0.9" stroke-dasharray="1 1"/>
<path d="M618.7 227 V186.6" stroke="#d23048" stroke-width="1.3"/>
<path d="M618.7 186.6 V180" stroke="#ee97a3" stroke-width="0.9" stroke-dasharray="1 1"/>
<path d="M618.7 180 H621.2" stroke="#ee97a3" stroke-width="0.9" stroke-dasharray="1 1"/>
<path d="M637.8 227 V66.3" stroke="#d23048" stroke-width="1.3"/>
<path d="M493.4 189.3 L500 186" stroke="#ee97a3" stroke-width="0.9" stroke-dasharray="1 1"/>
<text x="107" y="195" font-size="7.5" fill="#1e1e1e">b<tspan font-size="5" letter-spacing="0.5" dx="0.2" dy="0.8">5</tspan></text>
<text x="119.7" y="179.0" font-size="7.5" fill="#1e1e1e">b<tspan font-size="5" letter-spacing="0.5" dx="0.2" dy="0.8">6</tspan></text>
<text x="136.7" y="97.2" font-size="7.5" fill="#1e1e1e">b<tspan font-size="5" letter-spacing="0.5" dx="0.2" dy="0.8">7</tspan></text>
<text x="148.7" y="103.6" font-size="7.5" fill="#1e1e1e">b<tspan font-size="5" letter-spacing="0.5" dx="0.2" dy="0.8">8</tspan></text>
<text x="174" y="114.5" font-size="7.5" fill="#1e1e1e">b<tspan font-size="5" letter-spacing="0.5" dx="0.2" dy="0.8">10</tspan></text>
<text x="161.3" y="177.5" font-size="7.5" fill="#1e1e1e">b<tspan font-size="5" letter-spacing="0.5" dx="0.2" dy="0.8">9</tspan></text>
<text x="186.3" y="166.7" font-size="7.5" fill="#1e1e1e">b<tspan font-size="5" letter-spacing="0.5" dx="0.2" dy="0.8">11</tspan></text>
<text x="143" y="206.7" font-size="7.5" fill="#1e1e1e">y<tspan font-size="5" letter-spacing="0.5" dx="0.2" dy="0.8">6</tspan></text>
<text x="156.7" y="189.6" font-size="7.5" fill="#1e1e1e">y<tspan font-size="5" letter-spacing="0.5" dx="0.2" dy="0.8">7</tspan></text>
<text x="180.8" y="213.2" font-size="7.5" fill="#1e1e1e">y<tspan font-size="5" letter-spacing="0.5" dx="0.2" dy="0.8">8</tspan></text>
<text x="193.9" y="209.2" font-size="7.5" fill="#1e1e1e">y<tspan font-size="5" letter-spacing="0.5" dx="0.2" dy="0.8">9</tspan></text>
<text x="198.7" y="202.5" font-size="7.5" fill="#1e1e1e">b<tspan font-size="5" letter-spacing="0.5" dx="0.2" dy="0.8">12</tspan></text>
<text x="211" y="212.8" font-size="7.5" fill="#1e1e1e">b<tspan font-size="5" letter-spacing="0.5" dx="0.2" dy="0.8">13</tspan></text>
<text x="230.5" y="188" font-size="7.5" fill="#1e1e1e">y<tspan font-size="5" letter-spacing="0.5" dx="0.2" dy="0.8">12</tspan></text>
<text x="238" y="205.8" font-size="7.5" fill="#1e1e1e">b<tspan font-size="5" letter-spacing="0.5" dx="0.2" dy="0.8">29</tspan><tspan font-size="4.3" letter-spacing="0.35" dx="0.8" dy="-3.6">+2</tspan></text>
<text x="235.8" y="149.8" font-size="7.5" fill="#1e1e1e">y<tspan font-size="5" letter-spacing="0.5" dx="0.2" dy="0.8">27</tspan><tspan font-size="4.3" letter-spacing="0.35" dx="0.8" dy="-3.6">+2</tspan></text>
<text x="233" y="161.9" font-size="7.5" fill="#1e1e1e">y<tspan font-size="5" letter-spacing="0.5" dx="0.2" dy="0.8">26</tspan><tspan font-size="4.3" letter-spacing="0.35" dx="0.8" dy="-3.6">+2</tspan></text>
<text x="258.7" y="149.0" font-size="7.5" fill="#1e1e1e">y<tspan font-size="5" letter-spacing="0.5" dx="0.2" dy="0.8">28</tspan><tspan font-size="4.3" letter-spacing="0.35" dx="0.8" dy="-3.6">+2</tspan></text>
<text x="245.8" y="61.5" font-size="7.5" fill="#1e1e1e">y<tspan font-size="5" letter-spacing="0.5" dx="0.2" dy="0.8">29</tspan><tspan font-size="4.3" letter-spacing="0.35" dx="0.8" dy="-3.6">+2</tspan></text>
<text x="266" y="160.3" font-size="7.5" fill="#1e1e1e">y<tspan font-size="5" letter-spacing="0.5" dx="0.2" dy="0.8">30</tspan><tspan font-size="4.3" letter-spacing="0.35" dx="0.8" dy="-3.6">+2</tspan></text>
<text x="270" y="174.8" font-size="7.5" fill="#1e1e1e">y<tspan font-size="5" letter-spacing="0.5" dx="0.2" dy="0.8">31</tspan><tspan font-size="4.3" letter-spacing="0.35" dx="0.8" dy="-3.6">+2</tspan></text>
<text x="282.5" y="181.5" font-size="7.5" fill="#1e1e1e">y<tspan font-size="5" letter-spacing="0.5" dx="0.2" dy="0.8">32</tspan><tspan font-size="4.3" letter-spacing="0.35" dx="0.8" dy="-3.6">+2</tspan></text>
<text x="292.5" y="193.2" font-size="7.5" fill="#1e1e1e">y<tspan font-size="5" letter-spacing="0.5" dx="0.2" dy="0.8">15</tspan></text>
<text x="323.3" y="219.8" font-size="7.5" fill="#1e1e1e">y<tspan font-size="5" letter-spacing="0.5" dx="0.2" dy="0.8">18</tspan></text>
<text x="408.3" y="185.8" font-size="7.5" fill="#1e1e1e">b<tspan font-size="5" letter-spacing="0.5" dx="0.2" dy="0.8">2</tspan></text>
<text x="473" y="187.5" font-size="7.5" fill="#1e1e1e">b<tspan font-size="5" letter-spacing="0.5" dx="0.2" dy="0.8">8</tspan><tspan font-size="4.3" letter-spacing="0.35" dx="0.8" dy="-3.6">+2</tspan></text>
<text x="485.8" y="150" font-size="7.5" fill="#1e1e1e">b<tspan font-size="5" letter-spacing="0.5" dx="0.2" dy="0.8">9</tspan><tspan font-size="4.3" letter-spacing="0.35" dx="0.8" dy="-3.6">+2</tspan></text>
<text x="494.3" y="183.5" font-size="7.5" fill="#1e1e1e">y<tspan font-size="5" letter-spacing="0.5" dx="0.2" dy="0.8">9</tspan><tspan font-size="4.3" letter-spacing="0.35" dx="0.8" dy="-3.6">+2</tspan></text>
<text x="499.7" y="173.8" font-size="7.5" fill="#1e1e1e">b<tspan font-size="5" letter-spacing="0.5" dx="0.2" dy="0.8">10</tspan><tspan font-size="4.3" letter-spacing="0.35" dx="0.8" dy="-3.6">+2</tspan></text>
<text x="510" y="186.7" font-size="7.5" fill="#1e1e1e">b<tspan font-size="5" letter-spacing="0.5" dx="0.2" dy="0.8">11</tspan><tspan font-size="4.3" letter-spacing="0.35" dx="0.8" dy="-3.6">+2</tspan></text>
<text x="529.2" y="185.8" font-size="7.5" fill="#1e1e1e">b<tspan font-size="5" letter-spacing="0.5" dx="0.2" dy="0.8">12</tspan><tspan font-size="4.3" letter-spacing="0.35" dx="0.8" dy="-3.6">+2</tspan></text>
<text x="583.3" y="170.5" font-size="7.5" fill="#1e1e1e">y<tspan font-size="5" letter-spacing="0.5" dx="0.2" dy="0.8">16</tspan><tspan font-size="4.3" letter-spacing="0.35" dx="0.8" dy="-3.6">+2</tspan></text>
<text x="577.4" y="182.5" font-size="7.5" fill="#1e1e1e">b<tspan font-size="5" letter-spacing="0.5" dx="0.2" dy="0.8">7</tspan></text>
<text x="589.7" y="187.5" font-size="7.5" fill="#1e1e1e">b<tspan font-size="5" letter-spacing="0.5" dx="0.2" dy="0.8">17</tspan><tspan font-size="4.3" letter-spacing="0.35" dx="0.8" dy="-3.6">+2</tspan></text>
<text x="596.7" y="107.5" font-size="7.5" fill="#1e1e1e">y<tspan font-size="5" letter-spacing="0.5" dx="0.2" dy="0.8">17</tspan><tspan font-size="4.3" letter-spacing="0.35" dx="0.8" dy="-3.6">+2</tspan></text>
<text x="606.4" y="121.8" font-size="7.5" fill="#1e1e1e">b<tspan font-size="5" letter-spacing="0.5" dx="0.2" dy="0.8">8</tspan></text>
<text x="634" y="63.5" font-size="7.5" fill="#1e1e1e">y<tspan font-size="5" letter-spacing="0.5" dx="0.2" dy="0.8">9</tspan></text>
<text x="626.7" y="103.8" font-size="7.5" fill="#1e1e1e">b<tspan font-size="5" letter-spacing="0.5" dx="0.2" dy="0.8">9</tspan></text>
<text x="615.3" y="178.5" font-size="7.5" fill="#1e1e1e">y<tspan font-size="5" letter-spacing="0.5" dx="0.2" dy="0.8">18</tspan><tspan font-size="4.3" letter-spacing="0.35" dx="0.8" dy="-3.6">+2</tspan></text>
<text x="660.5" y="176" font-size="7.5" fill="#1e1e1e">b<tspan font-size="5" letter-spacing="0.5" dx="0.2" dy="0.8">10</tspan></text>
<text x="673.8" y="189.8" font-size="7.5" fill="#1e1e1e">b<tspan font-size="5" letter-spacing="0.5" dx="0.2" dy="0.8">22</tspan><tspan font-size="4.3" letter-spacing="0.35" dx="0.8" dy="-3.6">+2</tspan></text>
<text x="215.8" y="135.1" font-size="7.8" fill="#222">[M+3H]<tspan font-size="4.3" dx="0.5" dy="-3.4">+3</tspan></text>
<text x="601" y="83.3" font-size="7.8" fill="#222">[M+3H]<tspan font-size="4.3" dx="0.5" dy="-3.4">+3</tspan></text>
<circle cx="110.8" cy="276.4" r="1.85" fill="#1f7fcc"/>
<circle cx="123.2" cy="278.5" r="1.85" fill="#1f7fcc"/>
<circle cx="140.5" cy="280" r="1.85" fill="#1f7fcc"/>
<circle cx="146.2" cy="289.5" r="1.85" fill="#cc2233"/>
<circle cx="152.8" cy="277.5" r="1.85" fill="#1f7fcc"/>
<circle cx="163.3" cy="279" r="1.85" fill="#cc2233"/>
<circle cx="164.9" cy="275.7" r="1.85" fill="#1f7fcc"/>
<circle cx="179.5" cy="282" r="1.85" fill="#1f7fcc"/>
<circle cx="180.5" cy="288.3" r="1.85" fill="#cc2233"/>
<circle cx="191.9" cy="279" r="1.85" fill="#1f7fcc"/>
<circle cx="194.8" cy="282.6" r="1.85" fill="#cc2233"/>
<circle cx="204.2" cy="283.2" r="1.85" fill="#1f7fcc"/>
<circle cx="216.5" cy="283.5" r="1.85" fill="#1f7fcc"/>
<circle cx="228.7" cy="288" r="1.85" fill="#555"/>
<circle cx="236.2" cy="267.7" r="1.85" fill="#cc2233"/>
<circle cx="241" cy="269.2" r="1.85" fill="#cc2233"/>
<circle cx="245.8" cy="291.7" r="1.85" fill="#1f7fcc"/>
<circle cx="247" cy="280" r="1.85" fill="#cc2233"/>
<circle cx="253.3" cy="279" r="1.85" fill="#cc2233"/>
<circle cx="260.5" cy="275.2" r="1.85" fill="#cc2233"/>
<circle cx="266.5" cy="269.7" r="1.85" fill="#cc2233"/>
<circle cx="272.8" cy="271.5" r="1.85" fill="#cc2233"/>
<circle cx="281.5" cy="281.2" r="1.85" fill="#cc2233"/>
<circle cx="291.3" cy="294.2" r="1.85" fill="#cc2233"/>
<circle cx="328.3" cy="289.7" r="1.85" fill="#cc2233"/>
<circle cx="412.4" cy="283.2" r="1.85" fill="#1f7fcc"/>
<circle cx="479.3" cy="293.7" r="1.85" fill="#1f7fcc"/>
<circle cx="492.5" cy="283.5" r="1.85" fill="#1f7fcc"/>
<circle cx="493.7" cy="286.5" r="1.85" fill="#cc2233"/>
<circle cx="508" cy="279.3" r="1.85" fill="#1f7fcc"/>
<circle cx="516.8" cy="269.2" r="1.85" fill="#1f7fcc"/>
<circle cx="532.7" cy="286" r="1.85" fill="#1f7fcc"/>
<circle cx="586.8" cy="277.8" r="1.85" fill="#1f7fcc"/>
<circle cx="590" cy="281.4" r="1.85" fill="#cc2233"/>
<circle cx="604.2" cy="267.8" r="1.85" fill="#1f7fcc"/>
<circle cx="605.7" cy="273.8" r="1.85" fill="#cc2233"/>
<circle cx="608.8" cy="279.2" r="1.85" fill="#1f7fcc"/>
<circle cx="615.5" cy="267.2" r="1.85" fill="#555"/>
<circle cx="618.8" cy="281" r="1.85" fill="#cc2233"/>
<circle cx="635" cy="289.6" r="1.85" fill="#1f7fcc"/>
<circle cx="637.8" cy="281.4" r="1.85" fill="#cc2233"/>
<circle cx="666.5" cy="283.8" r="1.85" fill="#1f7fcc"/>
<circle cx="682.4" cy="286.5" r="1.85" fill="#1f7fcc"/>
</svg>
</body></html>
